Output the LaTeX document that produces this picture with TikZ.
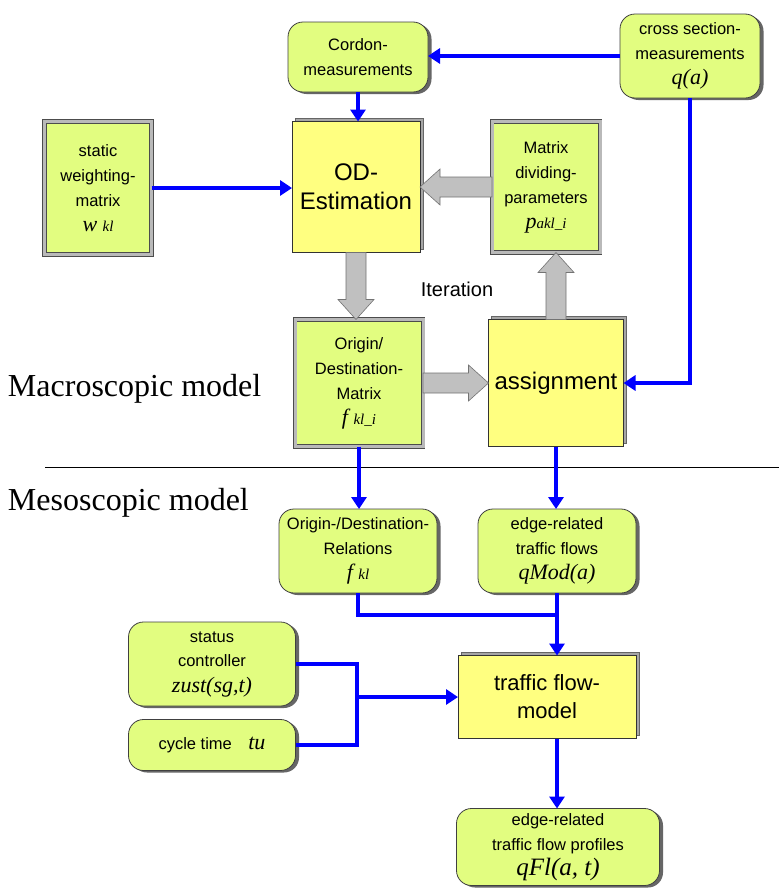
\documentclass[tikz,border=0pt]{standalone}
\usepackage{fontspec}
\setmainfont{Liberation Sans}
\newfontfamily\tms{Liberation Serif}
\usetikzlibrary{arrows.meta,shadows,calc}
\definecolor{leaf}{RGB}{226,253,128}
\definecolor{lemon}{RGB}{255,255,128}
\definecolor{flow}{RGB}{0,0,255}
\definecolor{blockgray}{RGB}{192,192,192}
% italic variable name: large main letters followed by a smaller index
\newcommand{\mv}[3][22]{{\tms\itshape\fontsize{#1}{#1}\selectfont #2\fontsize{15}{15}\selectfont #3}}

\begin{document}
\begin{tikzpicture}[x=1pt,y=-1pt,
  every node/.style={inner sep=0pt, outer sep=0pt},
  txt/.style={font=\fontsize{16.5}{25}\selectfont, align=center},
  rbox/.style={txt, draw=black!75, line width=0.8pt, fill=leaf, rounded corners=15pt,
    drop shadow={shadow xshift=3.5pt, shadow yshift=-2pt, fill=black!60, opacity=1}},
  fbox/.style={txt, draw=black!70, fill=leaf, double=gray!55, double distance=3pt, line width=0.7pt},
  ybox/.style={draw=black!80, line width=0.8pt, fill=lemon, align=center,
    drop shadow={shadow xshift=3pt, shadow yshift=3pt, fill=gray!70, draw=black!60, opacity=1}},
  flowline/.style={draw=flow, line width=4pt},
  flowarrow/.style={flowline, -{Triangle[width=15pt,length=12pt]}},
  blockarrow/.style={fill=blockgray, draw=black!55, line width=0.6pt, to path={
    let \p1=(\tikztostart), \p2=(\tikztotarget),
        \n1={atan2(\y2-\y1,\x2-\x1)}, \n2={veclen(\x2-\x1,\y2-\y1)} in
    {[shift={(\p1)}, rotate=\n1]
      (0,-10) -- (\n2-20,-10) -- (\n2-20,-18) -- (\n2,0) -- (\n2-20,18) -- (\n2-20,10) -- (0,10) -- cycle}}}
]
\fill[white] (0,0) rectangle (779,889);
\useasboundingbox (0,0) rectangle (779,889);

% macroscopic part
\node[rbox, minimum width=140, minimum height=70] (cordon) at (358,57) {Cordon-\\measurements};
\node[rbox, minimum width=140, minimum height=84] (cross) at (690,56) {cross section-\\measurements\\\mv{q(a)}{}};
\node[fbox, minimum width=107, minimum height=133] (static) at (98,188) {static\\weighting-\\matrix\\\mv{w }{kl}};
\node[ybox, minimum width=128, minimum height=131, font=\fontsize{24}{29}\selectfont] (od) at (356,187) {OD-\\Estimation};
\node[fbox, minimum width=108, minimum height=131] (mdp) at (546,187) {Matrix\\dividing-\\parameters\\\mv{p}{akl\_i}};
\node[fbox, minimum width=128, minimum height=127] (odm) at (359,383) {Origin/\\Destination-\\Matrix\\\mv{f }{kl\_i}};
\node[ybox, minimum width=135, minimum height=127, font=\fontsize{24}{29}\selectfont] (assign) at (556,383) {assignment};
\node[font=\fontsize{20}{20}\selectfont] (iter) at (457,289) {Iteration};

% model level labels and separator
\node[anchor=west, font=\tms\fontsize{32}{32}\selectfont] (macro) at (8,389) {Macroscopic model};
\node[anchor=west, font=\tms\fontsize{32}{32}\selectfont] (meso) at (8,503) {Mesoscopic model};
\coordinate (sepL) at (45,467);
\coordinate (sepR) at (779,467);
\draw[line width=1pt] (sepL) -- (sepR);

% mesoscopic part
\node[rbox, minimum width=158, minimum height=84] (odrel) at (358,551) {Origin-/Destination-\\Relations\\\mv{f }{kl}};
\node[rbox, minimum width=158, minimum height=84] (edge) at (557,551) {edge-related\\traffic flows\\\mv{qMod(a)}{}};
\node[rbox, minimum width=167, minimum height=84] (status) at (212,664) {status\\controller\\\mv{zust(sg,t)}{}};
\node[rbox, minimum width=167, minimum height=51] (cycle) at (212,745) {cycle time\quad\mv{tu}{}};
\node[ybox, minimum width=178, minimum height=83, font=\fontsize{22}{28}\selectfont] (tfm) at (547,697) {traffic flow-\\model};
\node[rbox, minimum width=203, minimum height=77] (prof) at (558,847) {edge-related\\traffic flow profiles\\\mv[25]{qFl(a, t)}{}};

% measurement and data flows
\draw[flowarrow] (cross.west) -- (cross.west -| cordon.east);
\draw[flowarrow] (cordon.south) -- (cordon.south |- od.north);
\draw[flowarrow] (static.east) -- (static.east -| od.west);
\draw[flowarrow] (cross.south) |- (assign.east);
\draw[flowarrow] (odm.south) -- (odm.south |- odrel.north);
\draw[flowarrow] (assign.south) -- (assign.south |- edge.north);
\coordinate (join) at (557,615);
\draw[flowline] (odrel.south) |- (join);
\draw[flowarrow] (edge.south) -- (edge.south |- tfm.north);
\coordinate (bus) at (357,697);
\draw[flowline] (status.east) -| (bus) |- (cycle.east);
\draw[flowarrow] (bus) -- (bus -| tfm.west);
\draw[flowarrow] (edge.south |- tfm.south) -- (edge.south |- prof.north);

% iteration loop
\draw[blockarrow] (mdp.west) to (od.east);
\draw[blockarrow] (od.south) to (od.south |- odm.north);
\draw[blockarrow] (odm.east) to (odm.east -| assign.west);
\draw[blockarrow] (assign.north) to (assign.north |- mdp.south);
\end{tikzpicture}
\end{document}
